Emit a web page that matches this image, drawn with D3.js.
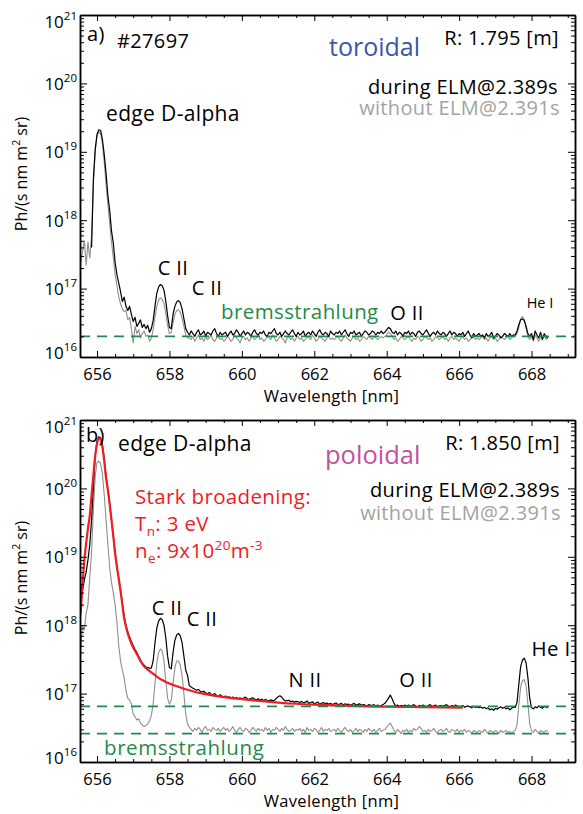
<!DOCTYPE html>
<html>
<head>
<meta charset="utf-8">
<script src="https://cdn.jsdelivr.net/npm/d3@7"></script>
<style>
  body { margin: 0; background: #fff; }
  svg { display: block; }
  text { font-family: "Open Sans", "Noto Sans", sans-serif; }
</style>
</head>
<body>
<svg id="chart" width="583" height="814"></svg>
<script>
// Intensities are given in units of 1e16 Ph/(s nm m^2 sr),
// sampled every 0.05 nm starting at 655.55 nm (null = no sample).
const UNIT = 1e16;
const WL_START = 655.55;
const WL_STEP = 0.05;

const xTickLabels = [656, 658, 660, 662, 664, 666, 668];
const yDecades = [16, 17, 18, 19, 20, 21];

// a) toroidal view, during ELM @2.389 s
const torDuring = [
  null, null, null, null, null, null, 40, 400, 1100, 1800, 2100, 2050, 1500, 900, 480, 230, 140, 70, 46, 24,
  16, 12, 9, 6.5, 7.5, 5.5, 4.8, 5.5, 4.2, 3.3, 3.8, 2.8, 3.1, 3.5, 2.7, 3.0, 2.6, 2.9, 2.3, 2.6,
  3.4, 5.5, 8.5, 10.5, 11.5, 11.0, 9.5, 6.5, 4.0, 2.7, 2.6, 4.2, 5.5, 6.4, 6.7, 6.2, 5.0, 3.6, 2.6, 2.3,
  2.1, 2.4, 2.2, 2.0, 2.3, 2.5, 2.1, 2.2, 2.4, 2.0, 2.3, 2.2, 2.1, 2.4, 2.6, 2.2, 2.0, 2.3, 2.1, 2.2,
  2.3, 2.0, 2.2, 2.4, 2.1, 2.2, 2.5, 2.3, 2.0, 2.2, 2.4, 2.1, 2.3, 2.2, 2.0, 2.3, 2.5, 2.2, 2.1, 2.3,
  2.2, 2.4, 2.1, 2.0, 2.3, 2.2, 2.4, 2.6, 2.2, 2.1, 2.3, 2.0, 2.2, 2.4, 2.2, 2.1, 2.3, 2.5, 2.2, 2.0,
  2.3, 2.1, 2.2, 2.4, 2.0, 2.2, 2.3, 2.1, 2.4, 2.2, 2.0, 2.3, 2.5, 2.2, 2.1, 2.3, 2.2, 2.0, 2.4, 2.2,
  2.1, 2.3, 2.2, 2.4, 2.1, 2.3, 2.5, 2.2, 2.0, 2.3, 2.2, 2.4, 2.1, 2.2, 2.3, 2.0, 2.2, 2.4, 2.3, 2.1,
  2.2, 2.4, 2.3, 2.1, 2.3, 2.2, 2.4, 2.2, 2.3, 2.5, 2.7, 2.6, 2.3, 2.2, 2.4, 2.1, 2.3, 2.2, 2.0, 2.3,
  2.2, 2.4, 2.1, 2.3, 2.2, 2.0, 2.3, 2.4, 2.2, 2.1, 2.3, 2.5, 2.2, 2.0, 2.2, 2.3, 2.1, 2.4, 2.2, 2.1,
  2.3, 2.2, 2.0, 2.2, 2.4, 2.1, 2.3, 2.2, 2.0, 2.2, 2.1, 2.3, 2.0, 2.2, 2.4, 2.1, 1.9, 2.2, 2.0, 2.1,
  2.2, 2.0, 2.1, 1.9, 2.2, 2.0, 2.1, 2.3, 1.9, 2.0, 2.2, 2.1, 1.9, 2.0, 2.2, 2.1, 2.0, 2.2, 2.0, 2.1,
  2.1, 2.4, 3.0, 3.5, 3.6, 3.4, 2.8, 2.2, 2.0, 2.2, 1.8, 2.4, 2.1, 1.9, 2.3, 1.8, 2.2, 2.0, 1.9
];

// a) toroidal view, without ELM @2.391 s
const torWithout = [
  24, 35, 50, 22, 48, 28, 60, 350, 1000, 1700, 1950, 1850, 1300, 700, 330, 170, 90, 48, 28, 16,
  11, 7.5, 6.0, 5.0, 4.6, 4.8, 3.5, 3.8, 2.6, 1.6, 2.8, 2.2, 2.5, 1.9, 2.2, 2.4, 2.0, 2.1, 1.7, 1.9,
  2.5, 3.8, 5.5, 6.8, 7.3, 7.0, 6.0, 4.3, 2.9, 2.2, 2.3, 3.2, 4.2, 4.8, 4.9, 4.5, 3.7, 2.8, 2.1, 1.9,
  1.9, 1.8, 2.0, 1.7, 1.9, 2.1, 1.8, 1.9, 1.7, 2.0, 1.8, 1.9, 2.1, 1.8, 1.7, 1.9, 2.0, 1.8, 1.9, 1.7,
  1.8, 2.0, 1.9, 1.7, 1.8, 2.1, 1.9, 1.8, 1.6, 1.9, 2.0, 1.8, 1.9, 1.7, 1.9, 2.0, 1.8, 1.9, 2.1, 1.8,
  1.9, 1.7, 1.8, 2.0, 1.9, 1.8, 2.1, 1.9, 1.7, 1.8, 2.0, 1.9, 1.8, 1.6, 1.9, 2.0, 1.8, 1.9, 1.7, 1.9,
  2.0, 1.8, 1.9, 1.7, 1.8, 2.0, 1.9, 1.8, 2.1, 1.9, 1.7, 1.8, 2.0, 1.9, 1.8, 1.7, 1.9, 2.0, 1.8, 1.9,
  1.8, 1.9, 2.0, 1.8, 1.7, 1.9, 2.1, 1.9, 1.8, 1.7, 1.9, 2.0, 1.8, 1.9, 1.7, 1.8, 2.0, 1.9, 1.8, 2.0,
  1.9, 1.8, 2.0, 1.9, 1.8, 1.9, 2.0, 1.9, 2.0, 2.1, 2.3, 2.2, 2.0, 1.8, 1.9, 1.7, 1.8, 2.0, 1.9, 1.8,
  1.9, 2.0, 1.8, 1.7, 1.9, 1.8, 2.0, 1.9, 1.7, 1.8, 2.0, 1.9, 1.8, 1.9, 1.7, 1.8, 2.0, 1.9, 1.8, 1.9,
  2.0, 1.8, 1.9, 1.7, 1.9, 2.0, 1.8, 1.9, 1.8, 1.7, 1.9, 2.0, 1.8, 1.9, 1.7, 1.8, 1.9, 2.0, 1.8, 1.9,
  1.8, 1.9, 2.0, 1.8, 1.9, 1.7, 1.9, 2.0, 1.8, 1.9, 1.7, 1.8, 2.0, 1.9, 1.8, 1.9, 2.0, 1.8, 1.9, 2.0,
  2.0, 2.2, 2.7, 3.6, 3.9, 3.5, 2.6, 2.0, 1.8, 2.0, 1.7, 2.1, 1.9, 1.7, 2.0, 1.8, 2.1, 1.8, 1.9
];

// b) poloidal view, during ELM @2.389 s
const polDuring = [
  400, 320, 460, 600, 900, 1500, 3500, 10500, 30000, 50000, 57000, 55000, 42000, 27000, 15000, 9500, 5800, 3400, 2000, 1150,
  720, 480, 320, 205, 135, 100, 80, 67, 58, 50, 44, 40, 35, 31, 28, 26, 24.5, 24, 23.5, 23.5,
  30, 55, 90, 115, 126, 120, 100, 65, 35, 24, 23, 40, 60, 72, 76, 70, 55, 35, 22, 18.5,
  13, 12.5, 12, 11.6, 11.2, 11.5, 10.8, 10.5, 10.9, 10.2, 10.0, 10.4, 9.8, 9.6, 10.0, 9.4, 9.2, 9.6, 9.1, 8.9,
  9.2, 8.8, 9.0, 8.6, 8.9, 8.5, 8.8, 8.4, 8.7, 8.3, 8.6, 8.9, 8.4, 8.2, 8.5, 8.7, 8.3, 8.1, 8.4, 8.0,
  8.3, 7.9, 8.2, 8.0, 7.8, 8.1, 7.9, 8.0, 8.5, 9.0, 9.3, 8.9, 8.2, 7.8, 7.9, 8.0, 7.6, 7.8, 7.5, 7.7,
  7.6, 7.4, 7.7, 7.3, 7.5, 7.8, 7.2, 7.4, 7.6, 7.1, 7.3, 7.5, 7.0, 7.2, 7.4, 7.1, 7.3, 7.0, 7.2, 6.9,
  7.1, 7.3, 6.9, 7.0, 7.2, 6.8, 7.1, 6.9, 7.0, 6.7, 7.0, 7.2, 6.8, 6.9, 7.1, 6.7, 6.9, 6.8, 6.6, 6.9,
  6.8, 6.7, 6.9, 6.6, 6.8, 6.5, 6.7, 6.9, 7.2, 7.8, 8.6, 9.5, 8.4, 7.2, 6.6, 6.8, 6.5, 6.7, 6.6, 6.8,
  6.6, 6.8, 6.5, 6.7, 6.9, 6.6, 6.4, 6.7, 6.5, 6.8, 6.6, 6.4, 6.7, 6.9, 6.5, 6.6, 6.8, 6.4, 6.6, 6.7,
  6.5, 6.7, 6.9, 6.6, 6.4, 6.7, 6.5, 6.8, 6.6, 6.4, 6.5, 6.7, 6.3, 6.5, 6.6, 6.4, 6.2, 6.5, 6.3, 6.4,
  6.2, 6.4, 6.1, 6.3, 6.0, 6.2, 5.8, 6.0, 5.7, 6.1, 5.9, 6.2, 6.4, 6.1, 6.3, 6.0, 6.2, 5.8, 6.1, 6.3,
  6.3, 7.5, 14, 25, 31, 33, 28, 17, 8.5, 6.2, 6.0, 6.4, 6.2, 6.6, 6.3, 6.1, 6.5, 6.4, 6.2
];

// b) poloidal view, without ELM @2.391 s
const polWithout = [
  45, 100, 85, 150, 200, 500, 1200, 5000, 15000, 24000, 25000, 23000, 16000, 8000, 3500, 1500, 700, 420, 300, 200,
  110, 50, 30, 22, 17, 11, 8.5, 8, 7, 5, 4.6, 4.1, 4.3, 3.7, 3.5, 3.3, 3.4, 3.6, 4.0, 4.8,
  7, 14, 28, 40, 45, 42, 30, 15, 8.5, 7, 8, 14, 24, 30, 30, 26, 18, 10, 5, 3.6,
  3.2, 3.0, 2.8, 3.1, 2.9, 3.2, 3.0, 2.7, 3.1, 3.3, 2.9, 3.0, 2.8, 3.2, 3.0, 2.9, 3.1, 2.8, 3.0, 3.2,
  2.9, 3.1, 2.8, 3.0, 3.3, 2.9, 2.7, 3.0, 3.2, 2.9, 2.8, 3.1, 3.0, 2.7, 2.9, 3.2, 3.0, 2.8, 3.1, 2.9,
  3.0, 2.8, 3.2, 2.9, 3.1, 2.7, 3.0, 2.9, 3.2, 3.0, 2.8, 3.1, 2.9, 3.3, 3.0, 2.8, 2.9, 3.1, 2.8, 3.0,
  2.9, 3.1, 2.8, 3.0, 2.7, 3.2, 2.9, 3.0, 2.8, 3.1, 3.0, 2.7, 2.9, 3.2, 2.8, 3.0, 2.9, 3.1, 2.8, 2.9,
  3.0, 2.8, 3.1, 2.9, 2.7, 3.0, 3.2, 2.9, 2.8, 3.0, 2.7, 2.9, 3.1, 2.8, 3.0, 2.9, 2.7, 3.0, 2.8, 3.1,
  2.9, 2.8, 3.0, 2.7, 2.9, 3.1, 2.8, 2.9, 3.0, 3.2, 3.5, 3.7, 3.3, 2.9, 2.7, 3.0, 2.8, 2.6, 2.9, 2.8,
  3.0, 2.7, 2.9, 2.8, 3.1, 2.9, 3.0, 3.3, 3.1, 2.8, 2.9, 2.7, 3.0, 2.8, 2.9, 3.1, 2.8, 2.7, 2.9, 3.0,
  2.8, 2.9, 3.1, 2.8, 2.7, 3.0, 2.9, 2.8, 3.0, 2.7, 2.9, 2.8, 3.0, 2.7, 2.9, 2.8, 2.6, 2.9, 2.8, 2.7,
  2.9, 2.8, 2.7, 3.0, 2.8, 2.6, 2.9, 2.8, 2.7, 2.9, 2.8, 2.6, 2.9, 2.7, 2.8, 2.9, 2.7, 2.8, 2.6, 2.8,
  2.9, 3.5, 7, 12.5, 15.5, 16, 13, 7, 3.6, 2.9, 2.7, 3.0, 2.8, 2.6, 2.9, 2.8, 2.7, 2.9, 2.8
];

// Stark-broadened D-alpha model (T_n = 3 eV, n_e = 9e20 m^-3)
const starkWl = [
  655.50, 655.55, 655.60, 655.65, 655.70, 655.75, 655.80, 655.85, 655.90, 655.95,
  656.00, 656.05, 656.10, 656.15, 656.20, 656.25, 656.30, 656.35, 656.40, 656.45,
  656.50, 656.55, 656.60, 656.65, 656.70, 656.75, 656.80, 656.85, 656.90, 656.95,
  657.00, 657.10, 657.20, 657.30, 657.40, 657.50, 657.60, 657.70, 657.80, 657.90,
  658.00, 658.20, 658.40, 658.60, 658.80, 659.00, 659.50, 660.00, 660.50, 661.00,
  661.50, 662.00, 662.50, 663.00, 663.50, 664.00, 664.50, 665.00, 665.50, 666.10
];
const starkVal = [
  120, 160, 400, 890, 1580, 2600, 4000, 8000, 15800, 30000,
  45000, 54000, 52500, 40000, 25100, 14100, 9500, 5900, 3470, 2000,
  1120, 710, 480, 316, 200, 126, 95, 76, 63, 54,
  47, 38, 30, 25, 22.4, 20.4, 18.6, 17.0, 15.8, 14.8,
  14.0, 12.8, 11.8, 11.0, 10.3, 9.8, 8.9, 8.3, 7.8, 7.4,
  7.1, 6.9, 6.75, 6.6, 6.5, 6.45, 6.4, 6.35, 6.3, 6.25
];

// Bremsstrahlung continuum levels
const bremsTor = [2.0];
const bremsPol = [6.5, 2.6];

const C = {
  during: "#000000",
  without: "#8f8f8f",
  withoutText: "#a3a3a3",
  stark: "#ee1c25",
  brems: "#1f8b48",
  toroidal: "#3b56a6",
  poloidal: "#c2519f"
};

const svg = d3.select("#chart");
const X0 = 80, X1 = 575;
const x = d3.scaleLinear().domain([655.53, 669.2]).range([X0, X1]);

const toPoints = vals => vals.map((v, i) => [WL_START + i * WL_STEP, v]);

function drawPanel(p) {
  const y = d3.scaleLog().domain([1e16, 1e21]).range([p.bottom, p.top]);
  const g = svg.append("g").attr("class", "panel-" + p.key);

  const clipId = "clip-" + p.key;
  svg.append("defs").append("clipPath").attr("id", clipId)
    .append("rect").attr("x", X0).attr("y", p.top)
    .attr("width", X1 - X0).attr("height", p.bottom - p.top);

  const plot = g.append("g").attr("clip-path", `url(#${clipId})`);
  const line = d3.line()
    .defined(d => d[1] != null)
    .x(d => x(d[0]))
    .y(d => y(d[1] * UNIT));

  plot.append("path").datum(toPoints(p.without))
    .attr("fill", "none").attr("stroke", C.without).attr("stroke-width", 1.1)
    .attr("stroke-linejoin", "round").attr("d", line);
  plot.append("path").datum(toPoints(p.during))
    .attr("fill", "none").attr("stroke", C.during).attr("stroke-width", 1.2)
    .attr("stroke-linejoin", "round").attr("d", line);

  if (p.stark) {
    plot.append("path").datum(starkWl.map((w, i) => [w, starkVal[i]]))
      .attr("fill", "none").attr("stroke", C.stark).attr("stroke-width", 2.2)
      .attr("d", d3.line().curve(d3.curveMonotoneX).x(d => x(d[0])).y(d => y(d[1] * UNIT)));
  }

  plot.selectAll("line.brems").data(p.brems).join("line")
    .attr("class", "brems")
    .attr("x1", X0).attr("x2", X1)
    .attr("y1", d => y(d * UNIT)).attr("y2", d => y(d * UNIT))
    .attr("stroke", C.brems).attr("stroke-width", 1.6)
    .attr("stroke-dasharray", "10,7");

  // Axes: ticks point inward on all four sides
  const xMinor = d3.range(655.5, 669.01, 0.5)
    .filter(v => v > 655.53 && !xTickLabels.includes(v));
  const yMajor = yDecades.map(d => Math.pow(10, d));
  const yMinor = [];
  yDecades.slice(0, -1).forEach(d => { for (let k = 2; k <= 9; k++) yMinor.push(k * Math.pow(10, d)); });

  const styleAxis = sel => {
    sel.select(".domain").attr("stroke", "#000").attr("stroke-width", 1.5);
    sel.selectAll(".tick line").attr("stroke", "#000").attr("stroke-width", 1);
  };

  g.append("g").attr("transform", `translate(0,${p.bottom})`)
    .call(d3.axisBottom(x).tickValues(xMinor).tickSize(-3).tickSizeOuter(0).tickFormat(""))
    .call(styleAxis);
  const xb = g.append("g").attr("transform", `translate(0,${p.bottom})`)
    .call(d3.axisBottom(x).tickValues(xTickLabels).tickSize(-6).tickSizeOuter(0)
      .tickPadding(11.5).tickFormat(d3.format("d")))
    .call(styleAxis);
  xb.selectAll(".tick text").attr("font-size", 16.5).attr("fill", "#000")
    .attr("font-family", '"Open Sans", sans-serif');

  g.append("g").attr("transform", `translate(0,${p.top})`)
    .call(d3.axisTop(x).tickValues(xMinor).tickSize(-3).tickSizeOuter(0).tickFormat(""))
    .call(styleAxis);
  g.append("g").attr("transform", `translate(0,${p.top})`)
    .call(d3.axisTop(x).tickValues(xTickLabels).tickSize(-6).tickSizeOuter(0).tickFormat(""))
    .call(styleAxis);

  g.append("g").attr("transform", `translate(${X0},0)`)
    .call(d3.axisLeft(y).tickValues(yMinor).tickSize(-4).tickSizeOuter(0).tickFormat(""))
    .call(styleAxis);
  const yl = g.append("g").attr("transform", `translate(${X0},0)`)
    .call(d3.axisLeft(y).tickValues(yMajor).tickSize(-7).tickSizeOuter(0).tickFormat(""))
    .call(styleAxis);

  g.append("g").attr("transform", `translate(${X1},0)`)
    .call(d3.axisRight(y).tickValues(yMinor).tickSize(-4).tickSizeOuter(0).tickFormat(""))
    .call(styleAxis);
  g.append("g").attr("transform", `translate(${X1},0)`)
    .call(d3.axisRight(y).tickValues(yMajor).tickSize(-7).tickSizeOuter(0).tickFormat(""))
    .call(styleAxis);

  // Decade labels as 10^n
  yl.selectAll(".tick").each(function (d) {
    const e = Math.round(Math.log10(d));
    const shift = e === 21 ? 12 : (e === 16 ? 1 : 6);
    const t = d3.select(this).append("text")
      .attr("x", -3).attr("y", shift).attr("dy", 0)
      .attr("text-anchor", "end").attr("fill", "#000")
      .attr("font-size", 17).attr("font-family", '"Open Sans", sans-serif');
    t.append("tspan").text("10");
    t.append("tspan").attr("font-size", 11.5).attr("dy", -8).text(e);
  });

  // Axis titles
  const yt = svg.append("text")
    .attr("transform", `translate(27,${p.yTitleY}) rotate(-90)`)
    .attr("text-anchor", "middle").attr("font-size", 16);
  yt.append("tspan").text("Ph/(s nm m");
  yt.append("tspan").attr("font-size", 10.5).attr("dy", -7).text("2");
  yt.append("tspan").attr("dy", 7).text(" sr)");

  svg.append("text")
    .attr("x", (X0 + X1) / 2 + 4).attr("y", p.bottom + 45)
    .attr("text-anchor", "middle").attr("font-size", 16.5)
    .attr("letter-spacing", 0.3)
    .text("Wavelength [nm]");

  return { g, y };
}

const addText = (px, py, str, opts = {}) => svg.append("text")
  .attr("x", px).attr("y", py)
  .attr("font-size", opts.size || 20)
  .attr("letter-spacing", opts.spacing != null ? opts.spacing : 0.35)
  .attr("fill", opts.color || "#000")
  .attr("text-anchor", opts.anchor || "start")
  .text(str);

// ---------- a) toroidal ----------
drawPanel({
  key: "tor", top: 15, bottom: 357, yTitleY: 174,
  during: torDuring, without: torWithout, brems: bremsTor, stark: false
});

addText(87, 41, "a)");
addText(117, 48, "#27697");
addText(329, 56, "toroidal", { size: 25, spacing: 0, color: C.toroidal });
addText(559, 45, "R: 1.795 [m]", { anchor: "end" });
addText(558, 94, "during ELM@2.389s", { anchor: "end" });
addText(560, 115, "without ELM@2.391s", { anchor: "end", color: C.withoutText });
addText(106, 121, "edge D-alpha", { size: 21 });
addText(173, 275, "C II", { anchor: "middle" });
addText(207, 295, "C II", { anchor: "middle" });
addText(221, 319, "bremsstrahlung", { color: C.brems, size: 20.5, spacing: 0.4 });
addText(407, 320, "O II", { anchor: "middle" });
addText(540, 308, "He I", { anchor: "middle", size: 14.5, spacing: 0 });

// ---------- b) poloidal ----------
drawPanel({
  key: "pol", top: 420, bottom: 762, yTitleY: 578,
  during: polDuring, without: polWithout, brems: bremsPol, stark: true
});

addText(86, 442, "b)");
addText(118, 451, "edge D-alpha", { size: 21 });
addText(325, 464, "poloidal", { size: 25.5, spacing: 0, color: C.poloidal });
addText(560, 450, "R: 1.850 [m]", { anchor: "end" });
addText(560, 497, "during ELM@2.389s", { anchor: "end" });
addText(561, 520, "without ELM@2.391s", { anchor: "end", color: C.withoutText });

addText(135, 504, "Stark broadening:", { color: C.stark, size: 20.5 });
const tn = addText(135, 531, "", { color: C.stark, size: 20.5 });
tn.append("tspan").text("T");
tn.append("tspan").attr("font-size", 13.5).attr("dy", 5).text("n");
tn.append("tspan").attr("dy", -5).text(": 3 eV");
const ne = addText(135, 558, "", { color: C.stark, size: 20.5 });
ne.append("tspan").text("n");
ne.append("tspan").attr("font-size", 13.5).attr("dy", 5).text("e");
ne.append("tspan").attr("dy", -5).text(": 9x10");
ne.append("tspan").attr("font-size", 13.5).attr("dy", -8).text("20");
ne.append("tspan").attr("dy", 8).text("m");
ne.append("tspan").attr("font-size", 13.5).attr("dy", -8).text("-3");

addText(167, 615, "C II", { anchor: "middle" });
addText(202, 626, "C II", { anchor: "middle" });
addText(305, 687, "N II", { anchor: "middle" });
addText(416, 687, "O II", { anchor: "middle" });
addText(551, 656, "He I", { anchor: "middle", size: 20.5 });
addText(104, 755, "bremsstrahlung", { color: C.brems, size: 20.5, spacing: 0.6 });
</script>
</body>
</html>
